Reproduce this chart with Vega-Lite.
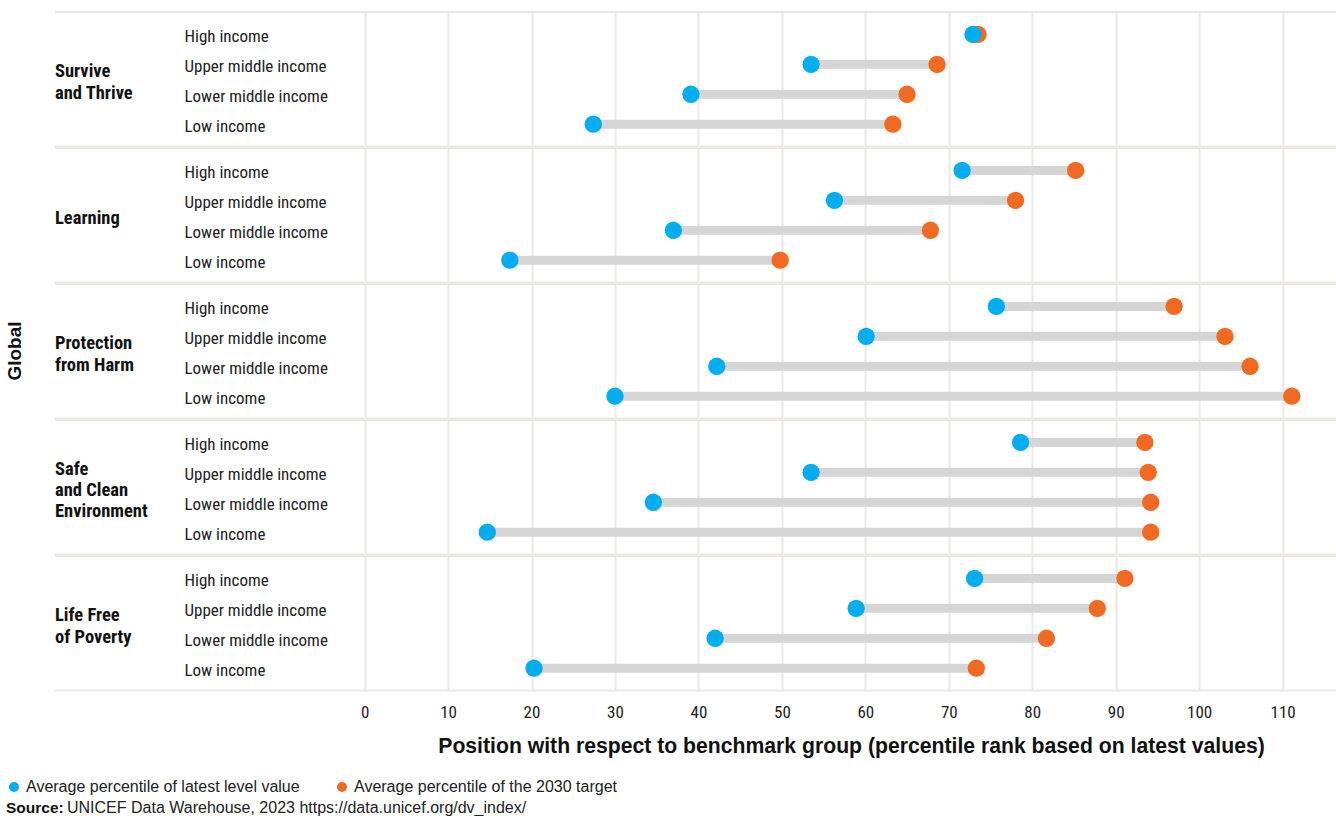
{
  "$schema": "https://vega.github.io/schema/vega-lite/v6.json",
  "padding": {"left": 5, "top": 11, "right": 0, "bottom": 2},
  "background": "white",
  "config": {
    "font": "Liberation Sans Narrow, Roboto Condensed, DejaVu Sans Condensed, Roboto, sans-serif",
    "view": {"stroke": "#ebe8e3", "strokeWidth": 2, "strokeDash": [1281, 134.6, 1281, 134.6]}
  },
  "resolve": {"legend": {"color": "independent"}},
  "title": {
    "text": "UNICEF Data Warehouse, 2023 https://data.unicef.org/dv_index/",
    "orient": "bottom",
    "anchor": "start",
    "font": "Liberation Sans, Arial, sans-serif",
    "fontSize": 16,
    "fontWeight": "normal",
    "color": "#222222",
    "dx": 61,
    "dy": -17,
    "offset": 0
  },
  "vconcat": [
    {
      "data": {
        "values": [
          {"cat": "Survive\nand Thrive", "income": "High income", "latest": 72.9, "target": 73.5},
          {"cat": "Survive\nand Thrive", "income": "Upper middle income", "latest": 53.5, "target": 68.6},
          {"cat": "Survive\nand Thrive", "income": "Lower middle income", "latest": 39.1, "target": 65.0},
          {"cat": "Survive\nand Thrive", "income": "Low income", "latest": 27.4, "target": 63.3},
          {"cat": "Learning", "income": "High income", "latest": 71.6, "target": 85.2},
          {"cat": "Learning", "income": "Upper middle income", "latest": 56.3, "target": 78.0},
          {"cat": "Learning", "income": "Lower middle income", "latest": 37.0, "target": 67.8},
          {"cat": "Learning", "income": "Low income", "latest": 17.4, "target": 49.8},
          {"cat": "Protection\nfrom Harm", "income": "High income", "latest": 75.7, "target": 97.0},
          {"cat": "Protection\nfrom Harm", "income": "Upper middle income", "latest": 60.1, "target": 103.1},
          {"cat": "Protection\nfrom Harm", "income": "Lower middle income", "latest": 42.2, "target": 106.1},
          {"cat": "Protection\nfrom Harm", "income": "Low income", "latest": 30.0, "target": 111.1},
          {"cat": "Safe\nand Clean\nEnvironment", "income": "High income", "latest": 78.6, "target": 93.5},
          {"cat": "Safe\nand Clean\nEnvironment", "income": "Upper middle income", "latest": 53.5, "target": 93.9},
          {"cat": "Safe\nand Clean\nEnvironment", "income": "Lower middle income", "latest": 34.6, "target": 94.2},
          {"cat": "Safe\nand Clean\nEnvironment", "income": "Low income", "latest": 14.7, "target": 94.2},
          {"cat": "Life Free\nof Poverty", "income": "High income", "latest": 73.1, "target": 91.1},
          {"cat": "Life Free\nof Poverty", "income": "Upper middle income", "latest": 58.9, "target": 87.8},
          {"cat": "Life Free\nof Poverty", "income": "Lower middle income", "latest": 42.0, "target": 81.7},
          {"cat": "Life Free\nof Poverty", "income": "Low income", "latest": 20.3, "target": 73.3}
        ]
      },
      "title": {
        "text": "Source:",
        "orient": "bottom",
        "anchor": "start",
        "font": "Liberation Sans, Arial, sans-serif",
        "fontSize": 15.5,
        "fontWeight": "bold",
        "color": "#111111",
        "offset": 6
      },
      "spacing": {"row": -1.5},
      "facet": {
        "row": {
          "field": "cat",
          "type": "nominal",
          "sort": ["Survive\nand Thrive", "Learning", "Protection\nfrom Harm", "Safe\nand Clean\nEnvironment", "Life Free\nof Poverty"],
          "title": "Global",
          "header": {
            "labels": false,
            "titleOrient": "left",
            "titleAngle": -90,
            "titleFontSize": 19,
            "titleFontWeight": "bold",
            "titleFont": "Liberation Sans, Arial, sans-serif",
            "titleColor": "#111111",
            "titlePadding": 0
          }
        }
      },
      "spec": {
        "width": 1281,
        "height": 134.6,
        "layer": [
          {
            "mark": {"type": "rule", "strokeWidth": 9, "color": "#d5d5d5"},
            "encoding": {
              "y": {
                "field": "income",
                "type": "nominal",
                "sort": ["High income", "Upper middle income", "Lower middle income", "Low income"],
                "scale": {"type": "point", "padding": 0.75},
                "axis": {
                  "title": null,
                  "orient": "left",
                  "labelAlign": "left",
                  "labelPadding": -130,
                  "labelOffset": 2.5,
                  "labelBaseline": "middle",
                  "labelFontSize": 17,
                  "labelColor": "#222222",
                  "ticks": false,
                  "domain": false,
                  "grid": false
                }
              },
              "x": {
                "field": "latest",
                "type": "quantitative",
                "scale": {"domain": [-37.1, 116.4], "nice": false, "zero": false},
                "axis": {
                  "title": "Position with respect to benchmark group (percentile rank based on latest values)",
                  "values": [0, 10, 20, 30, 40, 50, 60, 70, 80, 90, 100, 110],
                  "grid": true,
                  "gridColor": "#ebe8e3",
                  "gridWidth": 2,
                  "domain": false,
                  "ticks": false,
                  "labelFontSize": 17,
                  "labelColor": "#222222",
                  "labelPadding": 12,
                  "titleFont": "Liberation Sans, Arial, sans-serif",
                  "titleFontSize": 21.2,
                  "titleFontWeight": "bold",
                  "titleColor": "#111111",
                  "titlePadding": 15,
                  "titleX": 796
                }
              },
              "x2": {"field": "target"}
            }
          },
          {
            "transform": [{"fold": ["target", "latest"], "as": ["measure", "value"]}],
            "mark": {"type": "circle", "size": 300, "opacity": 1},
            "encoding": {
              "y": {
                "field": "income",
                "type": "nominal",
                "sort": ["High income", "Upper middle income", "Lower middle income", "Low income"],
                "scale": {"type": "point", "padding": 0.75}
              },
              "x": {
                "field": "value",
                "type": "quantitative",
                "scale": {"domain": [-37.1, 116.4], "nice": false, "zero": false},
                "axis": {"title": "Position with respect to benchmark group (percentile rank based on latest values)"}
              },
              "color": {
                "field": "measure",
                "type": "nominal",
                "scale": {"domain": ["latest", "target"], "range": ["#00aeef", "#f26a21"]},
                "legend": {
                  "orient": "none",
                  "legendX": -49,
                  "legendY": 767,
                  "direction": "horizontal",
                  "title": null,
                  "symbolType": "circle",
                  "symbolSize": 100,
                  "labelFont": "Liberation Sans, Arial, sans-serif",
                  "labelFontSize": 16,
                  "labelColor": "#222222",
                  "labelLimit": 500,
                  "labelOffset": 4,
                  "columnPadding": 34,
                  "labelExpr": "datum.value == 'latest' ? 'Average percentile of latest level value' : 'Average percentile of the 2030 target'"
                }
              }
            }
          },
          {
            "transform": [{"filter": "datum.income == 'High income' && length(split(datum.cat, '\\n')) == 1"}],
            "mark": {"type": "text", "align": "left", "baseline": "middle", "lineBreak": "\n", "lineHeight": 21, "dy": 3, "fontSize": 18.5, "fontWeight": "bold", "color": "#111111"},
            "encoding": {
              "text": {"field": "cat"},
              "x": {"datum": -37.1}
            }
          },
          {
            "transform": [{"filter": "datum.income == 'High income' && length(split(datum.cat, '\\n')) == 2"}],
            "mark": {"type": "text", "align": "left", "baseline": "middle", "lineBreak": "\n", "lineHeight": 21.5, "dy": -8, "fontSize": 18.5, "fontWeight": "bold", "color": "#111111"},
            "encoding": {
              "text": {"field": "cat"},
              "x": {"datum": -37.1}
            }
          },
          {
            "transform": [{"filter": "datum.income == 'High income' && length(split(datum.cat, '\\n')) == 3"}],
            "mark": {"type": "text", "align": "left", "baseline": "middle", "lineBreak": "\n", "lineHeight": 21, "dy": -18, "fontSize": 18.5, "fontWeight": "bold", "color": "#111111"},
            "encoding": {
              "text": {"field": "cat"},
              "x": {"datum": -37.1}
            }
          }
        ]
      }
    }
  ]
}
